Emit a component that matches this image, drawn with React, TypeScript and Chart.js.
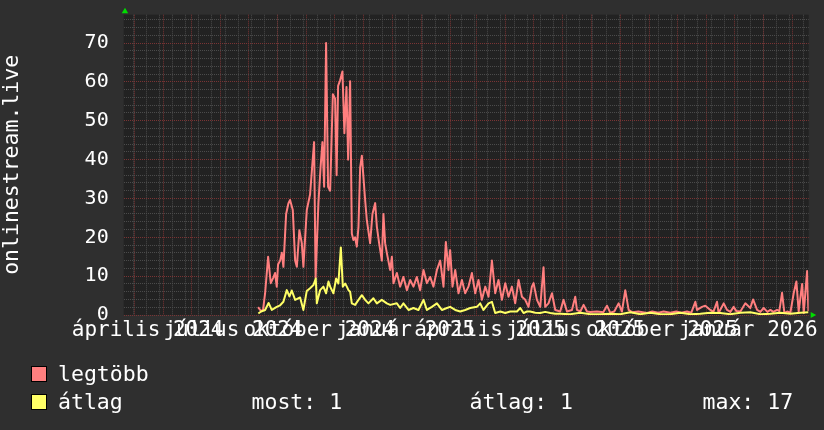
import React, { useEffect, useRef } from "react";
import { Chart, registerables } from "chart.js";

Chart.register(...registerables);

// Time axis: days counted from 2024-02-19 (left edge), two years shown
const START_ISO = "2024-02-19";
const SPAN_DAYS = 730;

// "legtöbb" (max) series: day offset / value
const maxDays = [
  143.2, 146.4, 148.5, 150.7, 153.9, 156.7, 159.2, 161.3, 163.1, 164.5, 166.7, 168.5, 170.2, 173.1, 175.5, 177.3,
  180.2, 182.7, 184.5, 187.2, 189.8, 191.5, 195.1, 198.6, 200.8, 202.9, 204.5, 207.5, 209.8, 211.8, 213.6, 215.7,
  217.8, 220.0, 222.9, 225.3, 226.9, 228.5, 230.6, 233.1, 235.2, 237.4, 239.2, 241.3, 243.1, 244.8, 246.6, 248.4,
  250.2, 252.0, 253.8, 257.3, 259.1, 262.6, 265.1, 268.0, 269.8, 272.2, 275.1, 276.8, 278.6, 280.4, 284.0, 285.8,
  287.5, 291.1, 294.6, 298.1, 301.8, 305.3, 308.8, 312.4, 315.9, 319.5, 323.1, 326.6, 330.1, 333.8, 337.3, 340.8,
  343.3, 346.1, 347.9, 350.4, 353.3, 356.8, 360.4, 363.9, 367.4, 371.1, 374.6, 378.1, 381.7, 385.3, 388.8, 392.4,
  395.9, 399.4, 403.1, 406.6, 410.1, 413.7, 417.2, 420.8, 424.4, 427.9, 431.4, 435.0, 436.8, 440.4, 443.9, 447.4,
  449.2, 452.7, 456.4, 459.9, 465.2, 468.7, 472.4, 477.7, 481.2, 483.0, 486.6, 490.1, 493.7, 497.2, 504.4, 511.1,
  515.0, 518.5, 522.8, 527.4, 531.0, 534.5, 538.1, 542.0, 548.4, 557.7, 563.3, 569.7, 575.4, 582.5, 588.9, 594.2,
  600.3, 604.9, 609.2, 611.0, 616.3, 619.8, 625.2, 628.4, 632.3, 634.0, 639.4, 643.0, 646.5, 650.0, 652.9, 657.2,
  662.5, 667.8, 670.7, 675.0, 678.5, 682.0, 686.0, 689.2, 692.3, 696.3, 698.7, 701.6, 704.1, 707.0, 710.5, 714.0,
  716.9, 719.3, 723.0, 724.7, 728.3, 729.7,
];
const maxValues = [
  2, 1, 1.3, 5.6, 15, 8.2, 9.5, 10.8, 7.3, 13, 14, 16, 12.4, 26, 28.7, 29.6,
  27, 14, 12.4, 21.8, 18.5, 12.4, 27, 31, 38, 44.5, 9.5, 28.8, 38, 44.5, 33, 70,
  33, 32, 56.8, 55.7, 36, 59, 60.4, 62.7, 46.8, 58.7, 40, 60.2, 21, 19.3, 20, 17.6,
  22.7, 38, 41, 29.6, 24.4, 18.5, 26, 28.8, 22.7, 18.5, 14, 26, 18.5, 16, 11.6, 15,
  8.2, 10.8, 7.3, 9.8, 6.4, 9, 7.3, 9.8, 6.4, 11.6, 8.2, 9.8, 7.3, 11.6, 14, 7.3,
  18.8, 11.6, 16.7, 7.3, 11.6, 5.6, 9, 5.6, 7.3, 10.8, 5.6, 9, 3.9, 7.3, 4.7, 14,
  5.6, 9, 3.9, 8.2, 4.7, 7.3, 3, 9, 4.7, 3.9, 2.1, 7.3, 8.2, 3.9, 2.1, 12.3,
  2.1, 3, 5.6, 1.3, 0.9, 3.9, 0.9, 1.3, 4.7, 1.3, 0.9, 2.6, 0.9, 0.8, 0.9, 0.7,
  2.4, 0.6, 0.9, 3, 0.9, 6.4, 1.3, 0.7, 0.9, 0.5, 0.9, 0.6, 0.9, 0.6, 0.9, 0.6,
  0.9, 0.6, 3.4, 1.3, 2.1, 2.4, 1.3, 0.8, 3.4, 0.5, 3, 1.3, 0.8, 2.1, 1, 0.9,
  3, 1.8, 4, 1.3, 0.8, 1.8, 0.8, 1.3, 0.8, 1.3, 1, 5.7, 0.5, 0.9, 0.6, 5.6,
  8.6, 0.9, 8, 0.5, 11.3, 1,
];

// "átlag" (average) series: day offset / value
const avgDays = [
  143.5, 146.4, 150.7, 154.4, 157.8, 163.1, 166.7, 170.2, 173.8, 176.6, 179.1, 182.7, 188.0, 191.5, 195.1, 198.6,
  202.2, 204.7, 205.8, 209.3, 212.8, 215.7, 218.2, 220.0, 223.5, 226.4, 228.8, 231.4, 233.5, 236.0, 237.8, 239.5,
  241.3, 243.1, 246.6, 250.2, 253.8, 257.3, 260.8, 266.1, 269.8, 275.1, 280.4, 284.0, 291.1, 294.6, 298.1, 303.5,
  308.8, 314.1, 319.5, 323.1, 328.4, 333.8, 339.1, 344.4, 347.9, 353.3, 358.6, 363.9, 369.3, 376.4, 379.9, 383.4,
  388.8, 392.4, 395.9, 401.3, 406.6, 411.9, 419.1, 422.6, 426.1, 429.7, 433.2, 438.6, 443.9, 449.2, 454.6, 459.9,
  465.2, 475.9, 486.6, 497.2, 507.9, 518.5, 529.2, 539.9, 550.5, 561.2, 571.9, 582.5, 593.2, 603.8, 614.5, 625.2,
  635.8, 646.5, 657.2, 667.8, 678.5, 689.2, 699.8, 710.5, 721.2, 729.7,
];
const avgValues = [
  0.4, 0.9, 1.3, 3.1, 1.3, 2.1, 2.5, 3.4, 6.4, 4.8, 6.3, 3.9, 4.5, 1.3, 6.2, 6.9,
  7.7, 9.4, 3, 6.4, 7.3, 5.6, 8.6, 7.3, 5.6, 9.4, 8.1, 17.4, 7.3, 8.1, 7.3, 6.4,
  6, 3, 2.6, 3.9, 5.1, 3.9, 3, 4.3, 3, 3.9, 3, 2.6, 3, 1.8, 3, 1.3,
  1.8, 1.3, 3.9, 1.3, 2.1, 3, 1.3, 1.8, 2.1, 1.3, 0.9, 1.3, 1.8, 2.1, 3, 1.3,
  3, 3.4, 0.5, 0.9, 0.5, 0.9, 0.9, 1.8, 0.5, 0.9, 0.9, 0.6, 0.5, 0.8, 0.5, 0.3,
  0.3, 0.2, 0.6, 0.2, 0.2, 0.3, 0.2, 0.7, 0.2, 0.6, 0.2, 0.2, 0.6, 0.2, 0.3, 0.6,
  0.5, 0.2, 0.6, 0.7, 0.2, 0.3, 0.6, 0.3, 0.6, 0.7,
];

const seriesLabels = ["legtöbb", "átlag"];
const seriesColors = ["#ff7f7f", "#ffff66"];
const statLabels = ["most: 1", "átlag: 1", "max: 17"];

const quarterLabels = [
  "április 2024", "július 2024", "október 2024", "január 2025",
  "április 2025", "július 2025", "október 2025", "január 2026",
];
const quarterDates = [
  "2024-04-01", "2024-07-01", "2024-10-01", "2025-01-01",
  "2025-04-01", "2025-07-01", "2025-10-01", "2026-01-01",
];
const yAxisTitle = "onlinestream.live";
const Y_MAX = 77.3;

const FONT = "'DejaVu Sans Mono', monospace";
const GRID_RED = "#7a3434";
const GRID_GRAY = "#4b4b4b";

const dayOf = (iso: string) =>
  (Date.parse(iso + "T00:00:00Z") - Date.parse(START_ISO + "T00:00:00Z")) / 86400000;

function buildXTicks() {
  const ticks: any[] = [];
  ticks.push({ value: 0, kind: "none", text: "" });
  // minor grid every two weeks (epoch aligned)
  for (let d = 10; d < SPAN_DAYS; d += 14) ticks.push({ value: d, kind: "minor", text: "" });
  // major grid at month starts
  for (let m = 2; m < 26; m++) {
    const y = 2024 + Math.floor(m / 12);
    const mm = m % 12;
    const iso = `${y}-${String(mm + 1).padStart(2, "0")}-01`;
    ticks.push({ value: dayOf(iso), kind: "major", text: "" });
  }
  // quarter labels
  quarterDates.forEach((iso, i) => {
    ticks.push({ value: dayOf(iso) - 16.5, kind: "label", text: quarterLabels[i] });
  });
  ticks.sort((a, b) => a.value - b.value);
  ticks.push({ value: SPAN_DAYS, kind: "none", text: "" });
  return ticks;
}

const decorPlugin = {
  id: "decor",
  beforeDraw(chart: any) {
    const { ctx, chartArea: a, width, height } = chart;
    ctx.save();
    ctx.fillStyle = "#2f2f2f";
    ctx.fillRect(0, 0, width, height);
    ctx.fillStyle = "#222222";
    ctx.fillRect(a.left, a.top, a.right - a.left, a.bottom - a.top);
    ctx.restore();
  },
  afterDraw(chart: any) {
    const { ctx, chartArea: a } = chart;
    ctx.save();
    // arrows
    ctx.fillStyle = "#00dd00";
    ctx.beginPath();
    ctx.moveTo(a.left - 2, a.top - 1.5);
    ctx.lineTo(a.left + 4.5, a.top - 1.5);
    ctx.lineTo(a.left + 1.3, a.top - 7);
    ctx.closePath();
    ctx.fill();
    ctx.beginPath();
    ctx.moveTo(a.right + 2, a.bottom - 3);
    ctx.lineTo(a.right + 2, a.bottom + 3);
    ctx.lineTo(a.right + 7.5, a.bottom);
    ctx.closePath();
    ctx.fill();

    // legend
    ctx.font = `21.5px ${FONT}`;
    ctx.textBaseline = "alphabetic";
    ctx.textAlign = "left";
    const rows = [366, 394];
    chart.data.datasets.forEach((ds: any, i: number) => {
      const top = rows[i];
      ctx.fillStyle = ds.borderColor;
      ctx.fillRect(31, top, 16, 16);
      ctx.strokeStyle = "#000";
      ctx.lineWidth = 1;
      ctx.strokeRect(31.5, top + 0.5, 15, 15);
      ctx.fillStyle = "#ffffff";
      ctx.fillText(ds.label, 58, top + 14.8);
    });
    const statX = [251.5, 469.5, 702.5];
    statLabels.forEach((t, i) => ctx.fillText(t, statX[i], rows[1] + 14.8));
    ctx.restore();
  },
};

export default function App() {
  const ref = useRef<HTMLCanvasElement>(null);

  useEffect(() => {
    if (!ref.current) return;
    const chart = new Chart(ref.current, {
      type: "line",
      data: {
        datasets: [
          {
            label: seriesLabels[0],
            data: maxDays.map((d, i) => ({ x: d, y: maxValues[i] })),
            borderColor: seriesColors[0],
            backgroundColor: seriesColors[0],
            borderWidth: 2,
            pointRadius: 0,
            tension: 0,
            borderJoinStyle: "round",
            fill: false,
            order: 2,
          },
          {
            label: seriesLabels[1],
            data: avgDays.map((d, i) => ({ x: d, y: avgValues[i] })),
            borderColor: seriesColors[1],
            backgroundColor: seriesColors[1],
            borderWidth: 2,
            pointRadius: 0,
            tension: 0,
            borderJoinStyle: "round",
            fill: false,
            order: 1,
          },
        ],
      },
      options: {
        animation: false,
        responsive: false,
        events: [],
        layout: { padding: { left: 0, right: 15.3, top: 14.7, bottom: 0 } },
        plugins: { legend: { display: false }, tooltip: { enabled: false } },
        scales: {
          x: {
            type: "linear",
            min: 0,
            max: SPAN_DAYS,
            bounds: "data",
            afterBuildTicks: (scale: any) => {
              scale.ticks = buildXTicks();
            },
            afterFit: (scale: any) => {
              scale.height = 115;
              scale.paddingLeft = 0;
              scale.paddingRight = 0;
            },
            grid: {
              drawTicks: false,
              lineWidth: 1,
              color: (c: any) =>
                c.tick && c.tick.kind === "major"
                  ? GRID_RED
                  : c.tick && c.tick.kind === "minor"
                  ? GRID_GRAY
                  : "rgba(0,0,0,0)",
            },
            border: { display: false, dash: [1, 1] },
            ticks: {
              autoSkip: false,
              maxRotation: 0,
              minRotation: 0,
              padding: 3,
              color: "#ffffff",
              font: { family: FONT, size: 21 },
              callback: (_v: any, i: number, ticks: any[]) => ticks[i].text || "",
            },
          },
          y: {
            type: "linear",
            min: 0,
            max: Y_MAX,
            bounds: "data",
            afterBuildTicks: (scale: any) => {
              const t: any[] = [];
              for (let v = 0; v <= 76; v += 2) t.push({ value: v });
              scale.ticks = t;
            },
            afterFit: (scale: any) => {
              scale.width = 123.7;
              scale.paddingTop = 0;
              scale.paddingBottom = 0;
            },
            grid: {
              drawTicks: false,
              lineWidth: 1,
              color: (c: any) => (c.tick && c.tick.value % 10 === 0 ? GRID_RED : GRID_GRAY),
            },
            border: { display: false, dash: [1, 1] },
            ticks: {
              autoSkip: false,
              padding: 15,
              color: "#ffffff",
              font: { family: FONT, size: 20 },
              callback: (v: any) => (Number(v) % 10 === 0 ? String(v) : ""),
            },
            title: {
              display: true,
              text: yAxisTitle,
              color: "#ffffff",
              font: { family: FONT, size: 21.5 },
              padding: 0,
            },
          },
        },
      },
      plugins: [decorPlugin],
    } as any);
    return () => chart.destroy();
  }, []);

  return (
    <div style={{ position: "fixed", left: 0, top: 0, width: 824, height: 430 }}>
      <canvas ref={ref} width={824} height={430} style={{ width: 824, height: 430, display: "block" }} />
    </div>
  );
}
